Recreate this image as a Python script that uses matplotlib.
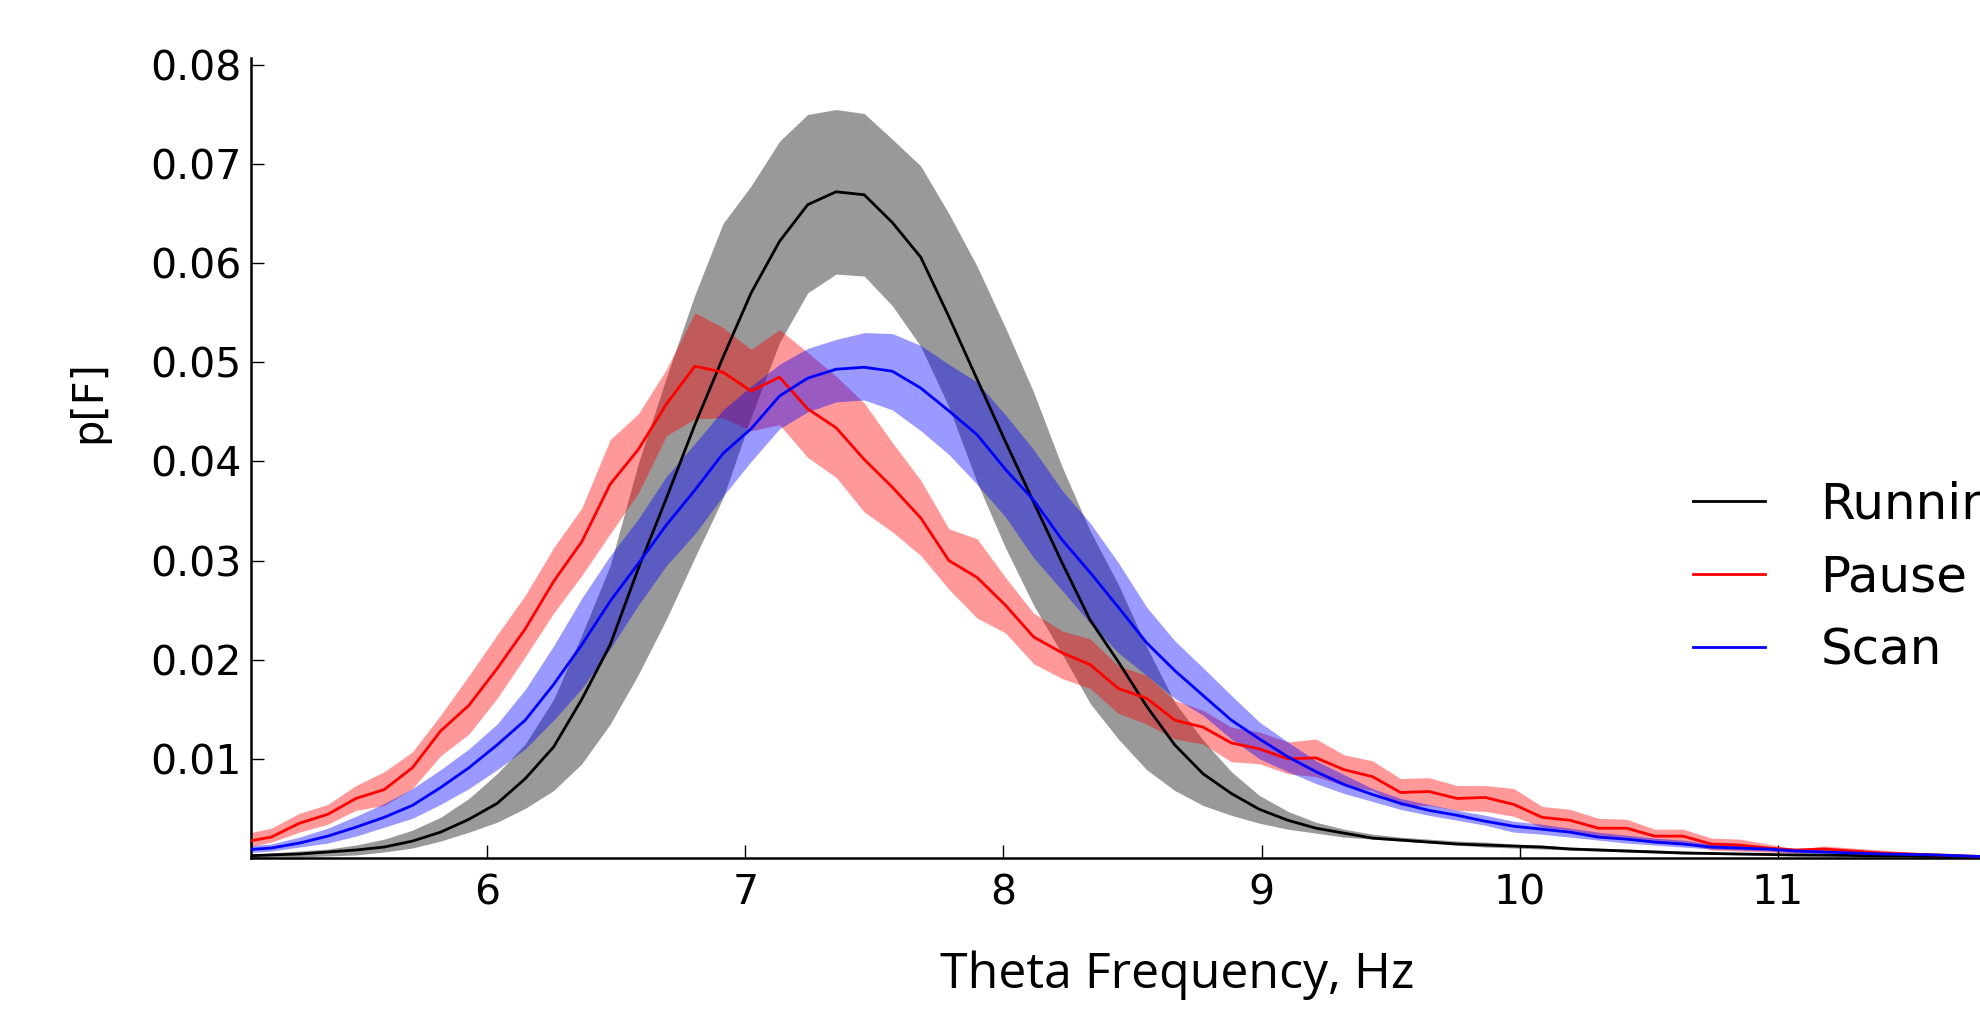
import numpy as np
import matplotlib
matplotlib.use("Agg")
import matplotlib.pyplot as plt

# bin centres, Hz (64 bins between 5 and 12 Hz)
freq = [5.055, 5.164, 5.273, 5.383, 5.492, 5.602, 5.711, 5.820, 5.930, 6.039,
        6.148, 6.258, 6.367, 6.477, 6.586, 6.695, 6.805, 6.914, 7.023, 7.133,
        7.242, 7.352, 7.461, 7.570, 7.680, 7.789, 7.898, 8.008, 8.117, 8.227,
        8.336, 8.445, 8.555, 8.664, 8.773, 8.883, 8.992, 9.102, 9.211, 9.320,
        9.430, 9.539, 9.648, 9.758, 9.867, 9.977, 10.086, 10.195, 10.305, 10.414,
        10.523, 10.633, 10.742, 10.852, 10.961, 11.070, 11.180, 11.289, 11.398, 11.508,
        11.617, 11.727, 11.836, 11.945]

run_mean = [0.0002, 0.0003, 0.0004, 0.0006, 0.0008, 0.0011, 0.0017, 0.0026, 0.0039, 0.0055,
            0.0080, 0.0112, 0.0160, 0.0215, 0.0292, 0.0363, 0.0437, 0.0505, 0.0570, 0.0622,
            0.0659, 0.0672, 0.0669, 0.0641, 0.0606, 0.0546, 0.0483, 0.0420, 0.0359, 0.0298,
            0.0240, 0.0198, 0.0153, 0.0114, 0.0085, 0.0065, 0.0049, 0.0038, 0.0030, 0.0025,
            0.0020, 0.0018, 0.0016, 0.0014, 0.0013, 0.0012, 0.0011, 0.0009, 0.0008, 0.0007,
            0.0006, 0.0005, 0.00045, 0.0004, 0.00035, 0.0003, 0.00028, 0.00025, 0.0002, 0.0002,
            0.00015, 0.00012, 0.0001, 0.0001]
run_lo = [0.0000, 0.0001, 0.0001, 0.0002, 0.0003, 0.0006, 0.0010, 0.0017, 0.0026, 0.0036,
          0.0050, 0.0068, 0.0095, 0.0135, 0.0185, 0.0241, 0.0303, 0.0363, 0.0445, 0.0520,
          0.0570, 0.0589, 0.0587, 0.0557, 0.0516, 0.0455, 0.0379, 0.0313, 0.0255, 0.0206,
          0.0156, 0.0120, 0.0089, 0.0068, 0.0053, 0.0043, 0.0035, 0.0029, 0.0025, 0.0021,
          0.0019, 0.0017, 0.0015, 0.0013, 0.0011, 0.0010, 0.0009, 0.0008, 0.0007, 0.0006,
          0.0005, 0.0004, 0.00035, 0.0003, 0.00025, 0.0002, 0.0002, 0.00018, 0.00015, 0.00015,
          0.0001, 0.0001, 0.00008, 0.00008]
run_hi = [0.0004, 0.0005, 0.0007, 0.0009, 0.0013, 0.0019, 0.0028, 0.0041, 0.0060, 0.0085,
          0.0115, 0.0160, 0.0225, 0.0295, 0.0398, 0.0485, 0.0568, 0.0640, 0.0678, 0.0723,
          0.0750, 0.0755, 0.0751, 0.0725, 0.0698, 0.0650, 0.0597, 0.0535, 0.0470, 0.0395,
          0.0330, 0.0276, 0.0213, 0.0157, 0.0119, 0.0087, 0.0063, 0.0047, 0.0036, 0.0029,
          0.0024, 0.0021, 0.0019, 0.0017, 0.0016, 0.0014, 0.0013, 0.0011, 0.0010, 0.0009,
          0.0008, 0.0007, 0.0006, 0.0005, 0.00045, 0.0004, 0.00035, 0.0003, 0.00025, 0.00025,
          0.0002, 0.00016, 0.00013, 0.00012]

pause_mean = [0.0016, 0.0021, 0.0035, 0.0044, 0.0060, 0.0069, 0.0091, 0.0128, 0.0154, 0.0191,
              0.0231, 0.0279, 0.0319, 0.0377, 0.0412, 0.0458, 0.0496, 0.0490, 0.0471, 0.0485,
              0.0453, 0.0434, 0.0402, 0.0374, 0.0343, 0.0300, 0.0283, 0.0255, 0.0223, 0.0207,
              0.0195, 0.0171, 0.0161, 0.0139, 0.0132, 0.0116, 0.0110, 0.0100, 0.0101, 0.0089,
              0.0082, 0.0066, 0.0067, 0.0060, 0.0061, 0.0054, 0.0041, 0.0038, 0.0030, 0.0030,
              0.0022, 0.0022, 0.0014, 0.0013, 0.0010, 0.0008, 0.0009, 0.0007, 0.0005, 0.0004,
              0.0003, 0.0002, 0.0001, 0.0001]
pause_lo = [0.0010, 0.0016, 0.0026, 0.0034, 0.0048, 0.0053, 0.0070, 0.0103, 0.0125, 0.0161,
            0.0203, 0.0247, 0.0285, 0.0327, 0.0368, 0.0426, 0.0443, 0.0444, 0.0431, 0.0437,
            0.0404, 0.0384, 0.0349, 0.0329, 0.0305, 0.0271, 0.0242, 0.0227, 0.0196, 0.0181,
            0.0171, 0.0146, 0.0135, 0.0120, 0.0115, 0.0097, 0.0095, 0.0085, 0.0082, 0.0073,
            0.0068, 0.0053, 0.0053, 0.0048, 0.0047, 0.0042, 0.0031, 0.0028, 0.0021, 0.0021,
            0.0015, 0.0015, 0.0008, 0.0007, 0.0006, 0.0005, 0.0006, 0.0004, 0.0003, 0.0002,
            0.0001, 0.0001, 0.0000, 0.0000]
pause_hi = [0.0024, 0.0030, 0.0045, 0.0054, 0.0073, 0.0087, 0.0107, 0.0144, 0.0184, 0.0225,
            0.0265, 0.0313, 0.0353, 0.0422, 0.0448, 0.0493, 0.0550, 0.0535, 0.0513, 0.0533,
            0.0510, 0.0486, 0.0459, 0.0419, 0.0381, 0.0332, 0.0322, 0.0283, 0.0247, 0.0229,
            0.0221, 0.0194, 0.0184, 0.0159, 0.0149, 0.0132, 0.0127, 0.0117, 0.0120, 0.0104,
            0.0098, 0.0080, 0.0081, 0.0073, 0.0073, 0.0070, 0.0052, 0.0049, 0.0040, 0.0039,
            0.0029, 0.0029, 0.0020, 0.0019, 0.0014, 0.0009, 0.0012, 0.0010, 0.0008, 0.0006,
            0.0004, 0.0003, 0.0002, 0.0001]

scan_mean = [0.0008, 0.0010, 0.0015, 0.0022, 0.0031, 0.0041, 0.0053, 0.0071, 0.0091, 0.0114,
             0.0139, 0.0175, 0.0215, 0.0259, 0.0297, 0.0336, 0.0371, 0.0408, 0.0433, 0.0466,
             0.0484, 0.0493, 0.0495, 0.0491, 0.0474, 0.0451, 0.0427, 0.0392, 0.0361, 0.0321,
             0.0288, 0.0253, 0.0217, 0.0189, 0.0164, 0.0139, 0.0120, 0.0102, 0.0087, 0.0074,
             0.0064, 0.0055, 0.0048, 0.0043, 0.0037, 0.0032, 0.0029, 0.0026, 0.0021, 0.0019,
             0.0016, 0.0014, 0.0011, 0.0010, 0.0009, 0.0007, 0.0006, 0.0005, 0.0004, 0.00035,
             0.0003, 0.0002, 0.0001, 0.0001]
scan_lo = [0.0005, 0.0007, 0.0011, 0.0015, 0.0022, 0.0031, 0.0040, 0.0054, 0.0070, 0.0089,
           0.0110, 0.0139, 0.0171, 0.0211, 0.0255, 0.0295, 0.0327, 0.0365, 0.0400, 0.0433,
           0.0450, 0.0460, 0.0462, 0.0452, 0.0431, 0.0407, 0.0377, 0.0344, 0.0303, 0.0270,
           0.0237, 0.0207, 0.0184, 0.0161, 0.0144, 0.0120, 0.0100, 0.0087, 0.0075, 0.0065,
           0.0057, 0.0049, 0.0043, 0.0038, 0.0033, 0.0026, 0.0024, 0.0021, 0.0018, 0.0015,
           0.0013, 0.0011, 0.0009, 0.0008, 0.0007, 0.0005, 0.0004, 0.0004, 0.0003, 0.0002,
           0.0002, 0.0001, 0.0000, 0.0000]
scan_hi = [0.0012, 0.0014, 0.0021, 0.0030, 0.0042, 0.0055, 0.0070, 0.0089, 0.0110, 0.0135,
           0.0170, 0.0214, 0.0262, 0.0305, 0.0342, 0.0385, 0.0418, 0.0452, 0.0476, 0.0498,
           0.0514, 0.0523, 0.0530, 0.0529, 0.0517, 0.0498, 0.0480, 0.0447, 0.0412, 0.0371,
           0.0338, 0.0298, 0.0253, 0.0219, 0.0192, 0.0164, 0.0137, 0.0117, 0.0098, 0.0084,
           0.0070, 0.0060, 0.0054, 0.0048, 0.0043, 0.0037, 0.0034, 0.0030, 0.0026, 0.0023,
           0.0020, 0.0018, 0.0014, 0.0013, 0.0011, 0.0009, 0.0008, 0.0007, 0.0006, 0.0005,
           0.0004, 0.0003, 0.0002, 0.0001]

labels = ["Running", "Pause", "Scan"]
colors = ["black", "red", "blue"]
xticks = [6, 7, 8, 9, 10, 11]
yticks = [0.01, 0.02, 0.03, 0.04, 0.05, 0.06, 0.07, 0.08]

fig = plt.figure(figsize=(19.8, 10.17), dpi=100)
# the axes run past the right edge of the figure, as in the original crop
ax = fig.add_axes([0.1268, 0.1564, 0.9015, 0.7866])

series = [(run_mean, run_lo, run_hi), (pause_mean, pause_lo, pause_hi),
          (scan_mean, scan_lo, scan_hi)]

# bands first, then the mean lines on top
for (m, lo, hi), c in zip(series, colors):
    ax.fill_between(freq, lo, hi, color=c, alpha=0.4, linewidth=0, zorder=1)
for (m, lo, hi), c, lab in zip(series, colors, labels):
    ax.plot(freq, m, color=c, lw=2, label=lab, zorder=3)

ax.set_xlim(5.086, 12.0)
ax.set_ylim(0, 0.0807)
ax.set_xticks(xticks)
ax.set_xticklabels([str(t) for t in xticks])
ax.set_yticks(yticks)
ax.set_yticklabels(["%.2f" % t for t in yticks])

for s in ["top", "right"]:
    ax.spines[s].set_visible(False)
for s in ["left", "bottom"]:
    ax.spines[s].set_linewidth(1.8)
ax.tick_params(direction="in", length=9.5, width=1, labelsize=29.5)
ax.tick_params(axis="x", pad=11)
ax.tick_params(axis="y", pad=7)

ax.set_xlabel("Theta Frequency, Hz", fontsize=36, family="Open Sans")
ax.xaxis.set_label_coords(0.519, -0.147)
ax.xaxis.label.set_va("center")
ax.set_ylabel("p[F]", fontsize=30)
ax.yaxis.set_label_coords(-0.091, 0.57)
ax.yaxis.label.set_va("center")

fig.legend(loc="center left", bbox_to_anchor=(0.855, 0.432), frameon=False,
           fontsize=36, handlelength=1.45, handletextpad=1.1, labelspacing=0.5,
           borderpad=0, borderaxespad=0)

fig.savefig("out.png", dpi=100)
